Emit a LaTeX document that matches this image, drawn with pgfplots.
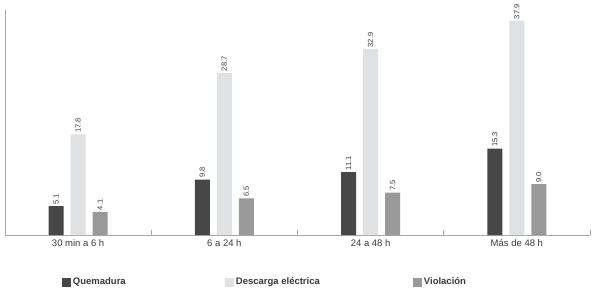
\documentclass[border=0pt]{standalone}
\usepackage{fontspec}
\setmainfont{Liberation Sans}
\usepackage{pgfplots}
\pgfplotsset{compat=1.18}
\definecolor{cDark}{HTML}{474747}
\definecolor{cLight}{HTML}{E0E1E2}
\definecolor{cMid}{HTML}{999999}
\definecolor{cAxis}{HTML}{A8A8A8}
\definecolor{cText}{HTML}{3A3A3A}
\begin{document}
\begin{tikzpicture}[x=1pt,y=1pt]
\useasboundingbox (0,0) rectangle (592,295);
\begin{axis}[
  at={(5pt,60pt)}, anchor=south west,
  scale only axis, width=585pt, height=225pt,
  xmin=-0.5, xmax=3.5, ymin=0, ymax=39.8,
  axis lines*=left,
  axis line style={cAxis, line width=0.8pt},
  ytick=\empty,
  xtick={0,1,2,3},
  xticklabels={30 min a 6 h, 6 a 24 h, 24 a 48 h, Más de 48 h},
  x tick label style={font=\fontsize{9.5}{11}\selectfont, text=cText, yshift=-1pt},
  major tick length=0pt,
  extra x ticks={0.5,1.5,2.5,3.5},
  extra x tick labels={},
  extra x tick style={major tick length=5pt, tick style={cAxis, line width=0.6pt}, xtick align=inside},
  ybar=7pt, bar width=15pt,
  nodes near coords,
  nodes near coords style={font=\fontsize{7.5}{8}\selectfont, text=cText, rotate=90, anchor=west, inner sep=1.5pt,
    /pgf/number format/.cd, fixed, fixed zerofill, precision=1, assume math mode=true},
  legend style={at={(axis description cs:0.097,-0.209)}, anchor=west, draw=none, fill=none, inner sep=0pt,
    font=\fontsize{9.5}{11}\selectfont\bfseries, text=cText, legend columns=3,
    /tikz/every even column/.append style={column sep=0pt}},
  legend image code/.code={\fill[#1] (0pt,-4.5pt) rectangle (9pt,4.5pt);},
]
\addplot[fill=cDark, draw=none] coordinates {(0,5.1) (1,9.8) (2,11.1) (3,15.3)};
\addplot[fill=cLight, draw=none] coordinates {(0,17.8) (1,28.7) (2,32.9) (3,37.9)};
\addplot[fill=cMid, draw=none] coordinates {(0,4.1) (1,6.5) (2,7.5) (3,9.0)};
\addlegendentry{\makebox[150pt][l]{Quemadura}}
\addlegendentry{\makebox[175pt][l]{Descarga eléctrica}}
\addlegendentry{Violación}
\end{axis}
\end{tikzpicture}
\end{document}
